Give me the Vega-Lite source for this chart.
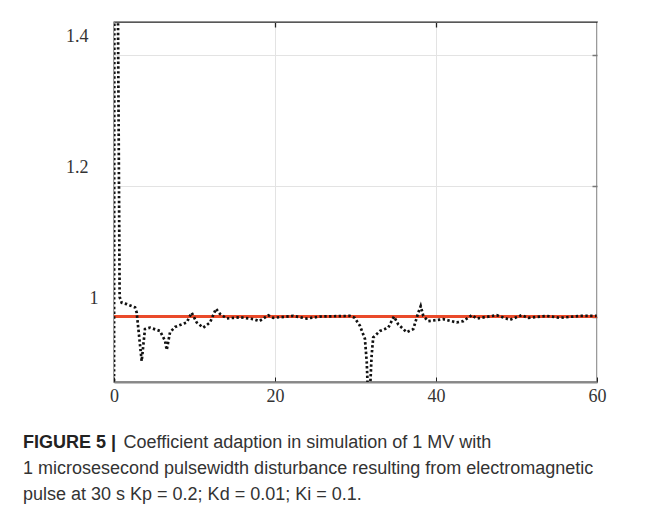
{
  "$schema": "https://vega.github.io/schema/vega-lite/v6.json",
  "width": 483,
  "height": 360,
  "autosize": {"type": "none"},
  "padding": {"left": 114, "top": 22, "right": 54, "bottom": 131},
  "background": "white",
  "datasets": {
    "adaptation": [
      {"t": 0, "v": 0.85}, {"t": 0.05, "v": 1.55}, {"t": 0.45, "v": 1.55}, {"t": 0.7, "v": 1.03},
      {"t": 0.96, "v": 1.021}, {"t": 1.58, "v": 1.019}, {"t": 2.61, "v": 1.014}, {"t": 2.82, "v": 1.006},
      {"t": 3.44, "v": 0.932}, {"t": 3.85, "v": 0.981}, {"t": 4.47, "v": 0.983}, {"t": 5.71, "v": 0.978},
      {"t": 6.34, "v": 0.963}, {"t": 6.55, "v": 0.949}, {"t": 6.96, "v": 0.976}, {"t": 7.58, "v": 0.984},
      {"t": 9.03, "v": 0.991}, {"t": 9.65, "v": 1.006}, {"t": 10.27, "v": 0.991}, {"t": 11.09, "v": 0.983},
      {"t": 11.93, "v": 0.991}, {"t": 12.67, "v": 1.012}, {"t": 13.17, "v": 1.004}, {"t": 14.0, "v": 0.997},
      {"t": 15.65, "v": 0.999}, {"t": 17.3, "v": 0.996}, {"t": 18.05, "v": 0.993}, {"t": 19.17, "v": 1.002},
      {"t": 19.79, "v": 0.998}, {"t": 22.27, "v": 1.001}, {"t": 23.94, "v": 0.997}, {"t": 25.6, "v": 1.0},
      {"t": 29.3, "v": 1.001}, {"t": 29.9, "v": 0.998}, {"t": 30.55, "v": 0.986}, {"t": 31.17, "v": 0.966},
      {"t": 31.4, "v": 0.93}, {"t": 31.55, "v": 0.88}, {"t": 31.85, "v": 0.9}, {"t": 32.0, "v": 0.94},
      {"t": 32.2, "v": 0.968}, {"t": 33.04, "v": 0.978}, {"t": 34.07, "v": 0.983}, {"t": 34.78, "v": 1.0},
      {"t": 35.31, "v": 0.988}, {"t": 36.36, "v": 0.976}, {"t": 37.18, "v": 0.981}, {"t": 37.8, "v": 1.006},
      {"t": 38.1, "v": 1.016}, {"t": 38.42, "v": 1.001}, {"t": 39.04, "v": 0.993}, {"t": 40.9, "v": 0.996},
      {"t": 42.57, "v": 0.991}, {"t": 43.39, "v": 0.993}, {"t": 44.43, "v": 1.002}, {"t": 45.06, "v": 0.997},
      {"t": 47.54, "v": 1.002}, {"t": 49.19, "v": 0.995}, {"t": 50.64, "v": 1.002}, {"t": 51.46, "v": 0.998},
      {"t": 53.75, "v": 1.001}, {"t": 55.4, "v": 0.998}, {"t": 57.89, "v": 1.001}, {"t": 59.96, "v": 1.001}
    ],
    "reference": [{"t": 0, "v": 1.0}, {"t": 60, "v": 1.0}]
  },
  "title": {
    "text": "FIGURE 5 |",
    "subtitle": [
      "1 microsesecond pulsewidth disturbance resulting from electromagnetic",
      "pulse at 30 s Kp = 0.2; Kd = 0.01; Ki = 0.1."
    ],
    "orient": "bottom",
    "anchor": "start",
    "frame": "group",
    "dx": -91,
    "offset": -17,
    "font": "Liberation Sans",
    "fontSize": 18,
    "fontWeight": "bold",
    "color": "#222222",
    "subtitleFont": "Liberation Sans",
    "subtitleFontSize": 18,
    "subtitleFontWeight": "normal",
    "subtitleColor": "#333333",
    "subtitleLineHeight": 26,
    "subtitlePadding": 8
  },
  "resolve": {"axis": {"x": "independent", "y": "independent"}},
  "layer": [
    {
      "data": {"name": "reference"},
      "mark": {"type": "line", "color": "#ea4a2a", "strokeWidth": 3, "clip": true},
      "encoding": {
        "x": {
          "field": "t",
          "type": "quantitative",
          "scale": {"domain": [0, 60], "nice": false},
          "axis": {
            "orient": "bottom",
            "values": [0, 20, 40, 60],
            "grid": true,
            "gridColor": "#e3e3e3",
            "labelFlush": false,
            "labelFont": "Liberation Serif",
            "labelFontSize": 18,
            "labelColor": "#333333",
            "labelPadding": 10,
            "ticks": true,
            "tickSize": -5,
            "tickColor": "#222222",
            "domainColor": "#888888",
            "domainWidth": 2,
            "title": "Coefficient adaption in simulation of 1 MV with",
            "titleX": 9,
            "titleY": 65,
            "titleAlign": "left",
            "titleAnchor": "start",
            "titleBaseline": "alphabetic",
            "titleFont": "Liberation Sans",
            "titleFontSize": 18,
            "titleFontWeight": "normal",
            "titleColor": "#333333"
          }
        },
        "y": {
          "field": "v",
          "type": "quantitative",
          "scale": {"domain": [0.9, 1.45], "nice": false, "zero": false},
          "axis": {
            "orient": "left",
            "values": [1, 1.2, 1.4],
            "format": ".1~f",
            "grid": true,
            "gridColor": "#e3e3e3",
            "domain": false,
            "ticks": false,
            "labelFont": "Liberation Serif",
            "labelFontSize": 18,
            "labelColor": "#333333",
            "labelOffset": -18.5,
            "labelPadding": {"condition": {"test": "datum.value == 1", "value": 16}, "value": 26},
            "title": null
          }
        }
      }
    },
    {
      "data": {"name": "adaptation"},
      "mark": {"type": "line", "color": "#111111", "strokeWidth": 2.7, "strokeDash": [2.4, 2.4], "clip": true},
      "encoding": {
        "x": {
          "field": "t",
          "type": "quantitative",
          "axis": {
            "orient": "top",
            "values": [20, 40],
            "grid": false,
            "labels": false,
            "domain": false,
            "ticks": true,
            "tickSize": -5,
            "tickWidth": 1.3,
            "tickColor": "#222222",
            "title": null
          }
        },
        "y": {
          "field": "v",
          "type": "quantitative",
          "axis": {
            "orient": "right",
            "values": [1, 1.2, 1.4],
            "grid": false,
            "labels": false,
            "domain": false,
            "ticks": true,
            "tickSize": -5,
            "tickWidth": 1.5,
            "tickColor": "#777777",
            "title": null
          }
        }
      }
    }
  ],
  "config": {"view": {"stroke": "#222222", "strokeWidth": 1.3}}
}
